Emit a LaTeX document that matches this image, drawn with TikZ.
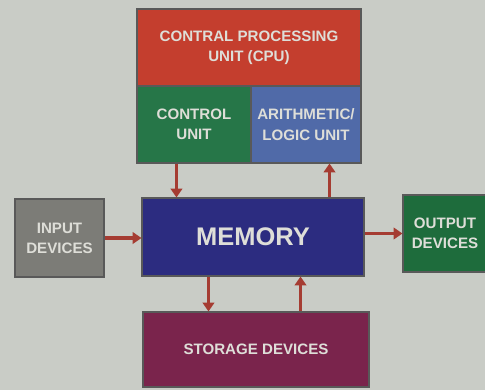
\documentclass[tikz,border=0pt]{standalone}
\usepackage{fontspec}
\setmainfont{Liberation Sans}
\usetikzlibrary{arrows.meta}

\definecolor{bgcol}{RGB}{201,204,198}
\definecolor{cpured}{RGB}{196,62,46}
\definecolor{cugreen}{RGB}{38,118,72}
\definecolor{alublue}{RGB}{80,106,168}
\definecolor{memblue}{RGB}{44,44,128}
\definecolor{ingray}{RGB}{124,124,119}
\definecolor{outgreen}{RGB}{30,108,60}
\definecolor{stopurple}{RGB}{122,36,76}
\definecolor{arrowred}{RGB}{165,60,50}
\definecolor{txtcol}{RGB}{222,222,216}

\tikzset{
  unit/.style={draw=black!65, line width=0.6pt, inner sep=0pt, align=center,
    text=txtcol, font=\bfseries\fontsize{8.6}{11.5}\selectfont},
  link/.style={arrowred, line width=1.8pt, -{Triangle[width=6.5pt,length=5pt]}}
}

\begin{document}
\begin{tikzpicture}[x=0.02cm, y=-0.02cm]
  \fill[bgcol] (0,0) rectangle (485,390);
  \useasboundingbox (0,0) rectangle (485,390);

  \node[unit, fill=cpured, minimum width=4.48cm, minimum height=1.54cm] (cpu) at (249,47.5)
    {CONTRAL PROCESSING\\UNIT (CPU)};
  \node[unit, fill=cugreen, minimum width=2.28cm, minimum height=1.54cm] (cu) at (194,124.5)
    {CONTROL\\UNIT};
  \node[unit, fill=alublue, minimum width=2.2cm, minimum height=1.54cm] (alu) at (306,124.5)
    {ARITHMETIC/\\LOGIC UNIT};
  \node[unit, fill=memblue, minimum width=4.44cm, minimum height=1.56cm,
    font=\bfseries\fontsize{14.5}{16}\selectfont] (mem) at (253,237) {MEMORY};
  \node[unit, fill=ingray, minimum width=1.78cm, minimum height=1.56cm] (in) at (59.5,238)
    {INPUT\\DEVICES};
  \node[unit, fill=outgreen, minimum width=1.68cm, minimum height=1.54cm] (out) at (445,233.5)
    {OUTPUT\\DEVICES};
  \node[unit, fill=stopurple, minimum width=4.52cm, minimum height=1.5cm] (sto) at (256,349.5)
    {STORAGE DEVICES};

  \path[link]
    ([xshift=0.8cm]cu.south west) edge ([xshift=0.8cm]cu.south west |- mem.north)
    ([xshift=-0.64cm]alu.south east |- mem.north) edge ([xshift=-0.64cm]alu.south east)
    ([xshift=1.34cm]mem.south west) edge ([xshift=1.34cm]mem.south west |- sto.north)
    ([xshift=-1.28cm]mem.south east |- sto.north) edge ([xshift=-1.28cm]mem.south east)
    (in.east) edge (in.east -| mem.west)
    (out.west -| mem.east) edge (out.west);
\end{tikzpicture}
\end{document}
